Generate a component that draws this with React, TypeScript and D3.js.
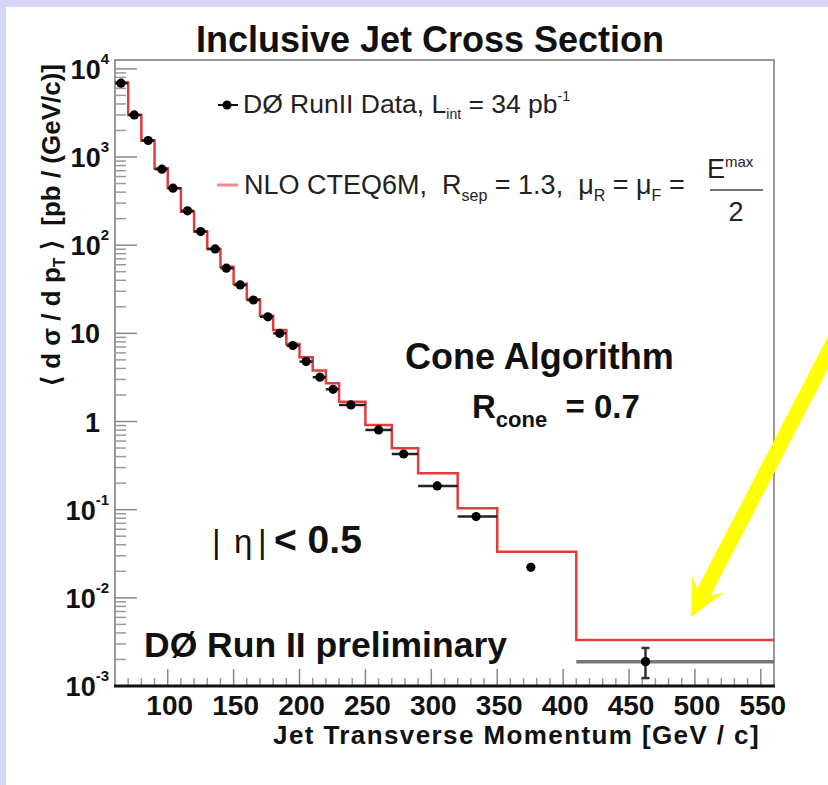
import React from 'react';
import * as d3 from 'd3';

// ---- data ----
const binEdges = [60, 70, 80, 90, 100, 110, 120, 130, 140, 150, 160, 170, 180, 190, 200, 210, 220, 230, 250, 270, 290, 320, 350, 410, 560];
const nloValues = [7000, 3000, 1540, 747, 443, 240, 143, 90.7, 57.1, 36.4, 24.4, 15.8, 10.9, 7.59, 5.36, 3.78, 2.72, 1.68, 0.914, 0.497, 0.259, 0.104, 0.0334, 0.00332];
const dataPt = [64.5, 74.6, 85.2, 95.6, 104, 115, 125, 136, 144.5, 155, 165, 176, 185, 195, 205, 215.5, 225.5, 239, 260, 279, 304.5, 334, 375.5, 462.5];
const dataValues = [6880, 3000, 1540, 728, 443, 245, 143, 90.7, 54.8, 35.4, 23.9, 15.4, 10.0, 7.26, 4.78, 3.18, 2.32, 1.54, 0.802, 0.428, 0.186, 0.0834, 0.0222, 0.00189];
const dataErrLow: (number | null)[] = [null, null, null, null, null, null, null, null, null, null, null, null, null, null, null, null, null, null, null, null, null, null, null, 0.00123];
const dataErrHigh: (number | null)[] = [null, null, null, null, null, null, null, null, null, null, null, null, null, null, null, null, null, null, null, null, null, null, null, 0.0027];
const showXErr = [true, true, true, true, true, true, true, true, true, true, true, true, true, true, true, true, true, true, true, true, true, true, false, true];
const xTickValues = [100, 150, 200, 250, 300, 350, 400, 450, 500, 550];
const yDecades = [-3, -2, -1, 0, 1, 2, 3, 4];

const FONT = "'Liberation Sans', Arial, Helvetica, sans-serif";

export default function App() {
  const W = 828, H = 785;
  const x = d3.scaleLinear().domain([60, 560]).range([115, 774]);
  const y = d3.scaleLog().domain([1e-3, 12600]).range([686, 60]);

  const stepPts: [number, number][] = binEdges.map((e, i) => [e, nloValues[Math.min(i, nloValues.length - 1)]]);
  const nloPath = d3.line<[number, number]>().x(d => x(d[0])).y(d => y(d[1])).curve(d3.curveStepAfter)(stepPts) || '';

  const [yMin, yMax] = y.domain();
  const yMinor: number[] = [];
  for (const d of yDecades) {
    for (let k = 2; k <= 9; k++) {
      const v = k * Math.pow(10, d);
      if (v >= yMin && v <= yMax) yMinor.push(v);
    }
  }
  const xMinor: number[] = d3.range(60, 561, 10).filter(v => v % 50 !== 0);

  // arrow geometry (annotation)
  const tip = [691, 617];
  const ux = 0.46, uy = -0.888; // toward tail
  const nx = 0.888, ny = 0.46;
  const P = (l: number, w: number) => `${tip[0] + l * ux + w * nx},${tip[1] + l * uy + w * ny}`;
  const arrowPts = [P(0, 0), P(37, 18), P(28, 7.5), P(360, 7.5), P(360, -7.5), P(28, -7.5), P(37, -18)].join(' ');

  return (
    <svg width={W} height={H} style={{ position: 'absolute', left: 0, top: 0, background: '#ffffff' }} fontFamily={FONT}>
      <rect x={0} y={0} width={W} height={H} fill="#ffffff" />
      <rect x={0} y={0} width={W} height={7} fill="#d5d5f7" />
      <rect x={0} y={0} width={6} height={H} fill="#d5d5f7" />

      {/* title */}
      <text x={430} y={52} textAnchor="middle" fontSize={36} fontWeight="bold" fill="#111">Inclusive Jet Cross Section</text>

      {/* frame */}
      <rect x={115} y={60} width={659} height={626} fill="none" stroke="#999" strokeWidth={2} />

      {/* y ticks */}
      {yDecades.map(d => (
        <line key={'ym' + d} x1={115} x2={137} y1={y(Math.pow(10, d))} y2={y(Math.pow(10, d))} stroke="#888" strokeWidth={1.5} />
      ))}
      {yMinor.map((v, i) => (
        <line key={'yn' + i} x1={115} x2={126} y1={y(v)} y2={y(v)} stroke="#999" strokeWidth={1.5} />
      ))}
      {/* x ticks */}
      {xTickValues.map(v => (
        <line key={'xm' + v} x1={x(v)} x2={x(v)} y1={686} y2={669} stroke="#888" strokeWidth={1.5} />
      ))}
      {xMinor.map(v => (
        <line key={'xn' + v} x1={x(v)} x2={x(v)} y1={686} y2={678} stroke="#999" strokeWidth={1.5} />
      ))}
      <line x1={114} x2={775} y1={686} y2={686} stroke="#111" strokeWidth={3} />

      {/* y tick labels */}
      {yDecades.map(d => {
        const yy = y(Math.pow(10, d)) + 10;
        if (d === 0) return <text key={'yl' + d} x={100} y={yy} textAnchor="end" fontSize={27} fontWeight="bold" fill="#111">1</text>;
        if (d === 1) return <text key={'yl' + d} x={100} y={yy} textAnchor="end" fontSize={27} fontWeight="bold" fill="#111">10</text>;
        return (
          <text key={'yl' + d} x={109} y={yy} textAnchor="end" fontSize={27} fontWeight="bold" fill="#111">
            10<tspan fontSize={15} dy={-15}>{String(d)}</tspan>
          </text>
        );
      })}
      {/* x tick labels */}
      {xTickValues.map(v => (
        <text key={'xl' + v} x={x(v) + 2} y={715} textAnchor="middle" fontSize={28} fontWeight="bold" fill="#111">{v}</text>
      ))}

      {/* axis titles */}
      <text x={760} y={744} textAnchor="end" fontSize={26} fontWeight="bold" letterSpacing={1.4} fill="#111">Jet Transverse Momentum [GeV / c]</text>
      <text transform="translate(60,225) rotate(-90)" textAnchor="middle" fontSize={26} fontWeight="bold" fill="#111" style={{ whiteSpace: 'pre' }}>
        {'⟨ d σ / d p'}<tspan fontSize={16} dy={5}>T</tspan><tspan dy={-5}>{' ⟩  [pb / (GeV/c)]'}</tspan>
      </text>

      {/* NLO histogram */}
      <path d={nloPath} fill="none" stroke="#e23c3c" strokeWidth={2.5} />

      {/* data */}
      {dataValues.map((v, i) => (
        <g key={'d' + i}>
          {showXErr[i] && (
            <line x1={x(binEdges[i])} x2={x(binEdges[i + 1])} y1={y(v)} y2={y(v)}
              stroke={i === dataValues.length - 1 ? '#777' : '#222'} strokeWidth={i === dataValues.length - 1 ? 3.5 : 2.5} />
          )}
          {dataErrLow[i] !== null && dataErrHigh[i] !== null && (
            <g stroke="#333" strokeWidth={2.5}>
              <line x1={x(dataPt[i])} x2={x(dataPt[i])} y1={y(dataErrLow[i] as number)} y2={y(dataErrHigh[i] as number)} />
              <line x1={x(dataPt[i]) - 4} x2={x(dataPt[i]) + 4} y1={y(dataErrLow[i] as number)} y2={y(dataErrLow[i] as number)} />
              <line x1={x(dataPt[i]) - 4} x2={x(dataPt[i]) + 4} y1={y(dataErrHigh[i] as number)} y2={y(dataErrHigh[i] as number)} />
            </g>
          )}
          <circle cx={x(dataPt[i])} cy={y(v)} r={4.6} fill="#000" />
        </g>
      ))}

      {/* legend */}
      <line x1={218} x2={238} y1={105} y2={105} stroke="#111" strokeWidth={2} />
      <circle cx={227} cy={105} r={4.5} fill="#000" />
      <text x={243} y={113} fontSize={26.5} fill="#222" style={{ whiteSpace: 'pre' }}>
        {'DØ RunII Data, L'}<tspan fontSize={14} dy={6}>int</tspan><tspan dy={-6}>{' = 34 pb'}</tspan><tspan fontSize={14} dy={-12}>-1</tspan>
      </text>
      <line x1={217} x2={238} y1={185} y2={185} stroke="#ef8b8b" strokeWidth={3} />
      <text x={244} y={194} fontSize={27} fill="#222" style={{ whiteSpace: 'pre' }}>
        {'NLO CTEQ6M,  R'}<tspan fontSize={16} dy={7}>sep</tspan><tspan dy={-7}>{' = 1.3,  μ'}</tspan><tspan fontSize={16} dy={7}>R</tspan><tspan dy={-7}>{' = μ'}</tspan><tspan fontSize={16} dy={7}>F</tspan><tspan dy={-7}>{' ='}</tspan>
      </text>
      <text x={707} y={178} fontSize={27} fill="#222">E<tspan fontSize={15} dy={-11}>max</tspan></text>
      <line x1={710} x2={763} y1={190} y2={190} stroke="#444" strokeWidth={1.5} />
      <text x={736} y={221} textAnchor="middle" fontSize={27} fill="#222">2</text>

      {/* annotations */}
      <text x={405} y={369} fontSize={36} fontWeight="bold" fill="#111">Cone Algorithm</text>
      <text x={472} y={418} fontSize={33} fontWeight="bold" fill="#111" style={{ whiteSpace: 'pre' }}>
        R<tspan fontSize={22} dy={9}>cone</tspan><tspan dy={-9}>{'  = 0.7'}</tspan>
      </text>
      <text x={212} y={553} fontSize={33} fill="#111">|</text>
      <text x={234} y={553} fontSize={33} fill="#111">η</text>
      <text x={258} y={553} fontSize={33} fill="#111">|</text>
      <text x={274} y={553} fontSize={39} fontWeight="bold" fill="#111" style={{ whiteSpace: 'pre' }}>{'< 0.5'}</text>
      <text x={144} y={657} fontSize={35.5} fontWeight="bold" fill="#111">DØ Run II preliminary</text>

      {/* yellow arrow */}
      <polygon points={arrowPts} fill="#ffff00" />
    </svg>
  );
}
